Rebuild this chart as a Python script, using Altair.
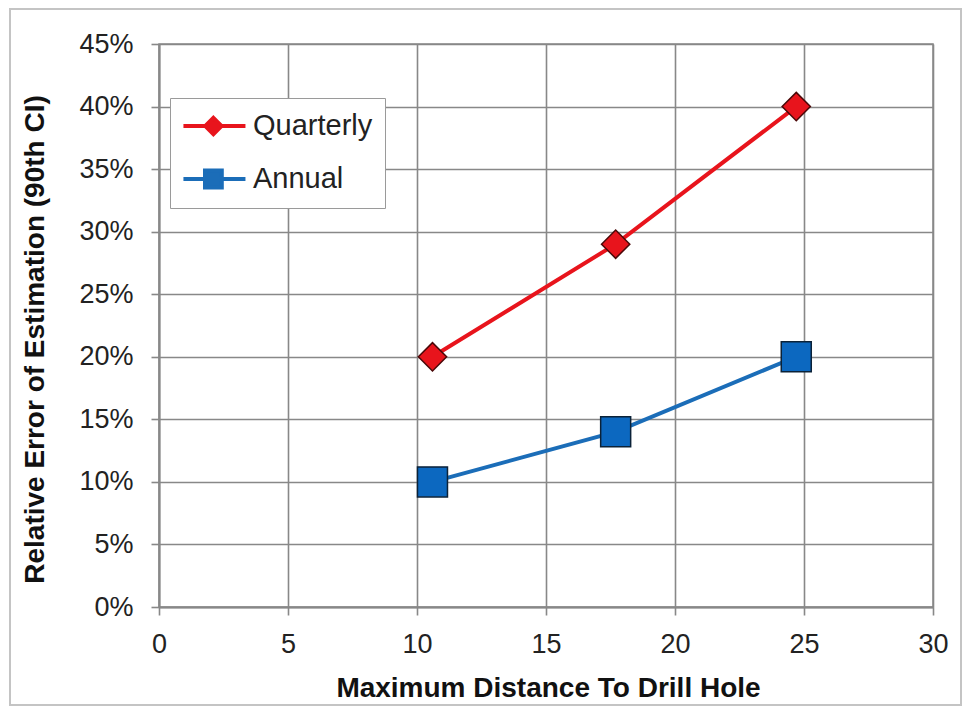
import altair as alt
import pandas as pd

# ---- data ----
distance = [10.6, 17.7, 24.7]
quarterly = [0.20, 0.29, 0.40]
annual = [0.10, 0.14, 0.20]
series_names = ["Quarterly", "Annual"]
x_ticks = [0, 5, 10, 15, 20, 25, 30]
y_ticks = [0, 0.05, 0.1, 0.15, 0.2, 0.25, 0.3, 0.35, 0.4, 0.45]

df = pd.DataFrame({
    "distance": distance + distance,
    "error": quarterly + annual,
    "series": ["Quarterly"] * len(distance) + ["Annual"] * len(distance),
})

# ---- style ----
W, H = 774, 563
FONT = "Liberation Sans"
RED = "#E8141C"
DARKRED = "#4A0808"
BLUE = "#1B6DB8"
BLUEFILL = "#0C68C0"
DARKBLUE = "#0B2238"
GRID = "#888888"

# legend symbols: line segment + marker (unit = sqrt(size)/2 px)
PATH_Q = "M-1.04,0H3.39M1.1,-0.58L1.68,0L1.1,0.58L0.52,0Z"
PATH_A = "M-1.04,0H3.39M0.5,-0.6H1.7V0.6H0.5Z"

x_enc = alt.X(
    "distance:Q",
    scale=alt.Scale(domain=[0, 30], nice=False),
    axis=alt.Axis(values=x_ticks, title="Maximum Distance To Drill Hole",
                  labelPadding=16, labelFlush=False, titleX=W / 2 + 2, titleY=81,
                  titleBaseline="middle", titleAlign="center"),
)
y_enc = alt.Y(
    "error:Q",
    scale=alt.Scale(domain=[0, 0.45], nice=False),
    axis=alt.Axis(values=y_ticks, format=".0%",
                  title="Relative Error of Estimation (90th CI)",
                  labelPadding=18, labelFlush=False, titleX=-124, titleY=295,
                  titleBaseline="middle", titleAlign="center"),
)

base = alt.Chart(df).encode(x=x_enc, y=y_enc)

frame = alt.Chart(alt.Data(values=[{}])).mark_rect(
    fill="transparent", stroke="#C4C4C4", strokeWidth=2
).encode(
    x=alt.value(-149), x2=alt.value(W + 28),
    y=alt.value(-35), y2=alt.value(H + 98),
)

q_line = base.transform_filter(alt.datum.series == "Quarterly").mark_line(
    color=RED, strokeWidth=4)
a_line = base.transform_filter(alt.datum.series == "Annual").mark_line(
    color=BLUE, strokeWidth=4)

q_pts = base.transform_filter(alt.datum.series == "Quarterly").mark_point(
    shape="diamond", filled=True, fill=RED, stroke=DARKRED,
    strokeWidth=1.5, size=800, opacity=1)
a_pts = base.transform_filter(alt.datum.series == "Annual").mark_point(
    shape="square", filled=True, fill=BLUEFILL, stroke=DARKBLUE,
    strokeWidth=1.5, size=900, opacity=1)

leg = alt.Legend(
    orient="none", legendX=11, legendY=54, title=None,
    strokeColor="#9A9A9A", fillColor="white", padding=12, cornerRadius=0,
    labelFont=FONT, labelFontSize=29, labelColor="#222222", labelOffset=39,
    symbolSize=784, symbolStrokeWidth=4, rowPadding=19,
)

legend_layer = base.transform_filter("false").mark_point(
    filled=True, opacity=1, size=784, strokeWidth=4
).encode(
    fill=alt.Fill("series:N", scale=alt.Scale(domain=series_names, range=[RED, BLUE]), legend=leg),
    stroke=alt.Stroke("series:N", scale=alt.Scale(domain=series_names, range=[RED, BLUE]), legend=leg),
    shape=alt.Shape("series:N", scale=alt.Scale(domain=series_names, range=[PATH_Q, PATH_A]), legend=leg),
)

chart = alt.layer(frame, q_line, a_line, q_pts, a_pts, legend_layer).properties(
    width=W, height=H,
    autosize=alt.AutoSizeParams(type="none"),
    padding={"left": 151, "top": 36, "right": 30, "bottom": 100},
    background="white",
).configure_view(
    stroke=GRID, strokeWidth=1.5
).configure_axis(
    grid=True, gridColor=GRID, gridWidth=1.6, gridOpacity=1,
    domainColor=GRID, domainWidth=2,
    tickColor=GRID, tickSize=8, tickWidth=1.6,
    labelFont=FONT, labelFontSize=27, labelColor="#222222",
    titleFont=FONT, titleFontSize=28, titleFontWeight="bold", titleColor="#111111",
)

chart.save("out.html", embed_options={"renderer": "svg", "actions": False})
